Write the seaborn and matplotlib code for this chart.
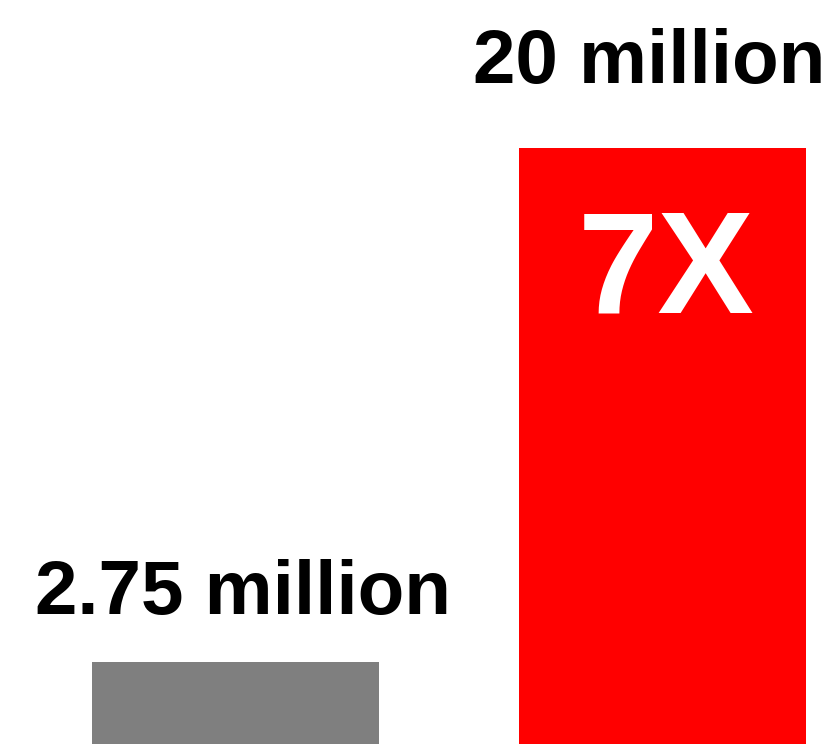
import pandas as pd
import seaborn as sns
import matplotlib.pyplot as plt

# data
categories = ['before', 'after']
values = [2.75, 20]          # millions
labels = ['2.75 million', '20 million']
bar_colors = ['#7f7f7f', '#ff0000']
ratio_text = '7X'

df = pd.DataFrame({'group': categories, 'value': values})

sns.set_style('white')
plt.rcParams['font.family'] = ['Liberation Sans', 'DejaVu Sans']

fig = plt.figure(figsize=(8.36, 7.44), dpi=100)
ax = fig.add_axes([0, 0, 1, 1])

sns.barplot(data=df, x='group', y='value', hue='group', palette=bar_colors,
            width=0.672, linewidth=0, saturation=1, legend=False, ax=ax)

ax.set_xlim(-0.5515, 1.406)
ax.set_ylim(0, 24.97)
ax.axis('off')

# value labels above bars (offsets in pixels)
label_offsets = [(7, 48), (-13, 65)]
for i, (v, lab) in enumerate(zip(values, labels)):
    ax.annotate(lab, xy=(i, v), xytext=label_offsets[i], textcoords='offset pixels',
                ha='center', va='baseline', fontsize=55, fontweight='bold', color='black')

# ratio inside the red bar
ax.annotate(ratio_text, xy=(1, values[1]), xytext=(4, -164), textcoords='offset pixels',
            ha='center', va='baseline', fontsize=104, fontweight='bold', color='white')

fig.savefig('out.png', dpi=100)
